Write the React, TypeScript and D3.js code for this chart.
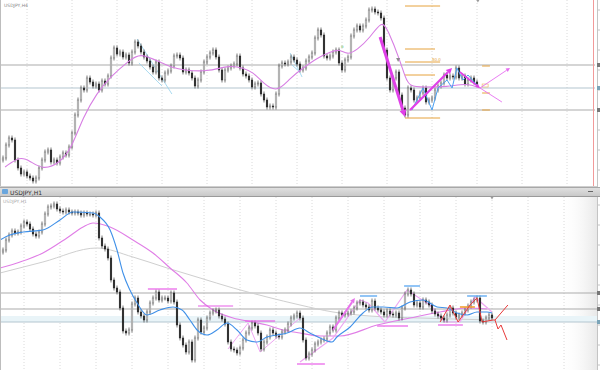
import React from 'react';
import * as d3 from 'd3';

// ---------- DATA (price units: top panel 0..190, bottom panel 0..173) ----------
const topCloses = [
  32, 45, 52, 50, 30, 22, 16, 18, 14, 12,
  9, 12, 22, 30, 38, 40, 28, 30, 27, 33,
  37, 35, 43, 57, 75, 90, 102, 100, 112, 108,
  104, 106, 100, 109, 106, 114, 132, 142, 136, 138,
  133, 135, 127, 138, 148, 144, 138, 133, 129, 123,
  118, 128, 112, 110, 117, 119, 124, 134, 135, 132,
  118, 120, 117, 112, 104, 110, 118, 128, 133, 137,
  140, 133, 120, 110, 120, 122, 124, 126, 134, 122,
  116, 114, 110, 103, 106, 107, 96, 90, 83, 84,
  83, 96, 124, 127, 126, 128, 133, 130, 126, 120,
  122, 129, 133, 137, 152, 160, 155, 134, 132, 134,
  138, 140, 127, 120, 130, 133, 154, 160, 164, 160,
  164, 170, 180, 181, 178, 177, 172, 140, 112, 100,
  112, 118, 95, 82, 75, 102, 100, 90, 92, 97,
  102, 88, 90, 92, 100, 104, 107, 115, 112, 114,
  113, 122, 112, 114, 106, 110, 112, 108, 106,
];

const botCloses = [
  120, 130, 135, 139, 137, 138, 144, 148, 146, 141,
  136, 134, 138, 146, 156, 163, 164, 166, 161, 159,
  158, 160, 158, 157, 158, 157, 155, 157, 156, 156,
  155, 157, 132, 124, 121, 112, 90, 82, 78, 62,
  39, 37, 40, 66, 72, 58, 54, 50, 58, 67,
  72, 78, 70, 72, 72, 69, 77, 68, 45, 32,
  25, 18, 28, 10, 32, 50, 38, 42, 52, 57,
  59, 60, 54, 51, 46, 28, 21, 20, 17, 22,
  30, 37, 42, 47, 44, 37, 21, 28, 33, 40,
  37, 34, 33, 38, 40, 46, 52, 54, 57, 52,
  30, 12, 16, 20, 26, 28, 30, 31, 37, 43,
  40, 52, 57, 55, 56, 57, 58, 62, 67, 68,
  65, 63, 60, 69, 62, 60, 58, 55, 59, 56,
  55, 57, 52, 62, 76, 80, 76, 65, 67, 63,
  70, 68, 65, 59, 56, 54, 52, 50, 55, 62,
  57, 53, 55, 57, 60, 64, 68, 70, 72, 49,
  48, 52, 55, 52,
];

const topMaIdx = [0.7, 5.7, 9, 13.3, 19, 23, 26.7, 31.3, 35.7, 42.3, 45.7, 52.3, 56.7, 60, 68, 75.7, 80, 83.3, 86.7, 91.3, 95.7, 100, 104.7, 109, 112.3, 114.7, 118, 122.3, 126.3, 128.3, 132.3, 134, 135.7, 140, 148, 154.7, 159];
const topMaVal = [23, 34, 29, 20, 27, 43, 73, 97, 113, 130, 137, 128, 122, 120, 118, 125, 122, 118, 107, 97, 112, 122, 132, 138, 141, 135, 140, 152, 170, 160, 130, 113, 103, 103, 103, 107, 102];

const botBlueIdx = [-1, 2.3, 6.7, 13.3, 19, 23.3, 30, 32.3, 35.7, 38, 40, 42.3, 44.7, 48, 52.3, 56.7, 59.7, 62.3, 64.7, 68, 71.3, 74.7, 78, 81.3, 84.7, 88, 91.3, 94.7, 99, 102.3, 105.7, 109.7, 111.3, 115.7, 120, 123.3, 126.7, 131.3, 135.7, 140, 144.7, 148, 151.3, 154.7, 158, 161.3, 163];
const botBlueVal = [130, 135, 138, 140, 150, 158, 157, 153, 140, 120, 97, 80, 67, 55, 60, 63, 60, 50, 40, 35, 40, 47, 40, 30, 28, 33, 35, 37, 42, 37, 32, 28, 33, 43, 57, 63, 63, 62, 68, 70, 63, 62, 57, 55, 58, 58, 57];

const botMagIdx = [-1, 5.7, 13.3, 21.3, 26.7, 30, 35.7, 43.3, 50, 55.7, 61.3, 65.7, 70, 76.7, 83.3, 88, 93.3, 99, 105.7, 112.3, 124.7, 135.7, 145.7, 154.7, 161.3];
const botMagVal = [102, 108, 117, 132, 143, 147, 143, 130, 117, 102, 87, 70, 60, 52, 48, 45, 40, 37, 34, 34, 45, 52, 58, 62, 61];

const botGrayIdx = [-1, 13.3, 31.3, 43.3, 54.7, 65.7, 76.7, 88, 99, 110, 122.3, 139, 163];
const botGrayVal = [97, 108, 122, 113, 102, 92, 82, 73, 65, 58, 54, 52, 50];

const topLevels = [125, 102, 80];
const botLevels = [77, 61, 48];
const fibLevels = [184, 141, 128, 115, 72];

// top blue zigzag
const topZigIdx = [136.3, 140, 143, 145, 148, 149.7, 151.3, 153.3, 155, 158];
const topZigVal = [80, 102, 80, 102, 110, 102, 122, 110, 115, 105];

// bottom pink zigzags
const pinkAIdx = [75, 81.7, 85.7, 99];
const pinkAVal = [21, 47, 18, 52];
const pinkBIdx = [99, 110, 119, 121.7, 127.3, 134.7, 142.3, 147.3, 152.3, 157.3, 163];
const pinkBVal = [8, 32, 70, 67, 48, 80, 65, 48, 48, 73, 58];

// bottom red zigzag + projections
const redIdx = [145.7, 149, 151.7, 155.7, 158, 159.7, 163.3, 164];
const redVal = [48, 65, 48, 65, 72, 48, 50, 50];
const redUpIdx = [164, 168.3];
const redUpVal = [50, 65];
const redDnIdx = [164, 165, 166, 168];
const redDnVal = [50, 41, 45, 30];

// segments: [startIdx, endIdx, value]
const magSegs = [[48.3, 58, 81], [65, 76.7, 64], [80.7, 90.7, 49], [98, 107.3, 6], [124.7, 135, 44], [145, 153.3, 45]];
const blueSegs = [[119, 124.7, 74], [133.7, 139, 84], [154.7, 161.3, 74]];

type Candle = { i: number; o: number; c: number; h: number; l: number };
function buildCandles(closes: number[]): Candle[] {
  return closes.map((c, i) => {
    const o = i === 0 ? c - 2 : closes[i - 1];
    return { i, o, c, h: Math.max(o, c) + 2.5, l: Math.min(o, c) - 2.5 };
  });
}

function Arrow({ x1, y1, x2, y2, color, width, head }: any) {
  const ang = Math.atan2(y2 - y1, x2 - x1);
  const bx = x2 - Math.cos(ang) * head;
  const by = y2 - Math.sin(ang) * head;
  const px = Math.cos(ang + Math.PI / 2) * head * 0.5;
  const py = Math.sin(ang + Math.PI / 2) * head * 0.5;
  return (
    <g>
      <line x1={x1} y1={y1} x2={bx} y2={by} stroke={color} strokeWidth={width} />
      <polygon points={`${x2},${y2} ${bx + px},${by + py} ${bx - px},${by - py}`} fill={color} />
    </g>
  );
}

export default function App() {
  const W = 600;
  const H = 370;
  const xTop = d3.scaleLinear().domain([0, 158]).range([3, 477]);
  const yTop = d3.scaleLinear().domain([0, 190]).range([190, 0]);
  const xBot = d3.scaleLinear().domain([0, 163]).range([3, 492]);
  const yBot = d3.scaleLinear().domain([0, 173]).range([370, 197]);

  const topC = buildCandles(topCloses);
  const botC = buildCandles(botCloses);

  const lineTop = (idx: number[], val: number[], curve: any = d3.curveLinear) =>
    d3.line<number>().x((_, k) => xTop(idx[k])).y((v) => yTop(v)).curve(curve)(val) || '';
  const lineBot = (idx: number[], val: number[], curve: any = d3.curveLinear) =>
    d3.line<number>().x((_, k) => xBot(idx[k])).y((v) => yBot(v)).curve(curve)(val) || '';

  const drawCandles = (cs: Candle[], xs: any, ys: any) =>
    cs.map((d) => {
      const bull = d.c >= d.o;
      const top = ys(Math.max(d.o, d.c));
      const bh = Math.max(1, Math.abs(ys(d.o) - ys(d.c)));
      const x = xs(d.i);
      return (
        <g key={d.i}>
          <line x1={x} x2={x} y1={ys(d.h)} y2={ys(d.l)} stroke="#444" strokeWidth={0.7} />
          <rect x={x - 0.8} y={top} width={1.6} height={bh} fill={bull ? '#ffffff' : '#222'} stroke={bull ? '#666' : '#222'} strokeWidth={0.5} />
        </g>
      );
    });

  const topGrid = d3.range(8, 200, 15).map((i) => xTop(i));
  const botGrid = d3.range(7, 200, 12).map((i) => xBot(i));

  const fibX1 = xTop(134);
  const fibX2 = xTop(145.7);

  return (
    <svg width={W} height={H} style={{ position: 'fixed', left: 0, top: 0, background: '#fff' }} fontFamily="DejaVu Sans, sans-serif">
      <defs>
        <clipPath id="clipTop"><rect x={0} y={0} width={595} height={186} /></clipPath>
        <clipPath id="clipBot"><rect x={0} y={197} width={597} height={173} /></clipPath>
        <linearGradient id="barGrad" x1="0" y1="0" x2="0" y2="1">
          <stop offset="0" stopColor="#e2e2e2" />
          <stop offset="1" stopColor="#c6c6c6" />
        </linearGradient>
        <linearGradient id="rightShade" x1="0" y1="0" x2="1" y2="0">
          <stop offset="0" stopColor="#ffffff" stopOpacity="0" />
          <stop offset="1" stopColor="#e8e8e8" stopOpacity="1" />
        </linearGradient>
      </defs>
      <rect x={0} y={0} width={W} height={H} fill="#fff" />

      {/* ---------------- TOP PANEL ---------------- */}
      <g clipPath="url(#clipTop)">
        {topGrid.map((x, k) => (
          <line key={k} x1={x} x2={x} y1={0} y2={186} stroke="#d0d0d0" strokeWidth={0.8} strokeDasharray="1,2" />
        ))}
        {topLevels.map((v, k) => (
          <line key={k} x1={0} x2={597} y1={yTop(v)} y2={yTop(v)} stroke={k === 1 ? '#b3c6cf' : '#ababab'} strokeWidth={1.1} />
        ))}
        {/* channel lines */}
        <line x1={xTop(44.7)} y1={yTop(151)} x2={xTop(56.3)} y2={yTop(96)} stroke="#9fd6ee" strokeWidth={0.9} />
        <line x1={xTop(45.3)} y1={yTop(127)} x2={xTop(53)} y2={yTop(104)} stroke="#9fd6ee" strokeWidth={0.9} />
        <line x1={xTop(95.7)} y1={yTop(137)} x2={xTop(99.7)} y2={yTop(113)} stroke="#9fd6ee" strokeWidth={0.9} />
        <line x1={xTop(96.3)} y1={yTop(125)} x2={xTop(99)} y2={yTop(118)} stroke="#9fd6ee" strokeWidth={0.9} />

        {/* fib levels */}
        {fibLevels.map((v, k) => (
          <line key={k} x1={fibX1} x2={k === 1 || k === 3 ? xTop(144) : fibX2} y1={yTop(v)} y2={yTop(v)} stroke="#e6a23c" strokeWidth={1} />
        ))}
        <text x={xTop(143)} y={yTop(128) - 1.5} fontSize={4} fill="#e6a23c">50.0</text>
        {[124, 97, 80].map((v, k) => (
          <line key={k} x1={xTop(159.7)} x2={xTop(162.3)} y1={yTop(v)} y2={yTop(v)} stroke="#e6a23c" strokeWidth={1} />
        ))}
        <rect x={xTop(159.7)} y={yTop(106)} width={6} height={3} fill="none" stroke="#e6a23c" strokeWidth={0.5} />

        {drawCandles(topC, xTop, yTop)}

        <path d={lineTop(topMaIdx, topMaVal, d3.curveBasis)} fill="none" stroke="#d77ee3" strokeWidth={1.1} />

        <path d={lineTop(topZigIdx, topZigVal)} fill="none" stroke="#4a9ff0" strokeWidth={1} />

        {/* markers */}
        <polygon points={`${xTop(131.7) - 2},${yTop(132)} ${xTop(131.7) + 2},${yTop(132)} ${xTop(131.7)},${yTop(128)}`} fill="#8a8a8a" />
        <text x={xTop(112.7)} y={yTop(142)} fontSize={4} fill="#4caf50">ʊ</text>

        {/* magenta arrows */}
        <Arrow x1={xTop(125.7)} y1={yTop(153)} x2={xTop(134)} y2={yTop(73)} color="#e040e8" width={3} head={7} />
        <Arrow x1={xTop(135.7)} y1={yTop(80)} x2={xTop(149.7)} y2={yTop(122)} color="#e040e8" width={2.2} head={6} />
        <Arrow x1={xTop(152.3)} y1={yTop(118)} x2={xTop(159)} y2={yTop(102)} color="#e040e8" width={1.6} head={4} />
        <Arrow x1={xTop(159)} y1={yTop(102)} x2={xTop(169)} y2={yTop(122)} color="#e66ef0" width={0.9} head={4} />
        <line x1={xTop(159)} y1={yTop(102)} x2={xTop(166.3)} y2={yTop(88)} stroke="#e66ef0" strokeWidth={0.9} />

        <line x1={593.5} x2={593.5} y1={0} y2={186} stroke="#f29a9a" strokeWidth={1} />
      </g>
      <text x={4} y={7} fontSize={4.5} fill="#888">USDJPY,H4</text>
      {/* top right axis */}
      <line x1={597.5} x2={597.5} y1={0} y2={187} stroke="#c4c4c4" />
      {d3.range(10, 186, 20).map((y) => (
        <line key={y} x1={597} x2={600} y1={y} y2={y} stroke="#c4c4c4" />
      ))}
      {topLevels.map((v, k) => (
        <rect key={k} x={597} y={yTop(v) - 2} width={3} height={4} fill={k === 1 ? '#7aa4b8' : '#777'} />
      ))}
      <line x1={0} x2={597} y1={186.5} y2={186.5} stroke="#cfcfcf" />
      <line x1={0.5} x2={0.5} y1={0} y2={186} stroke="#bdbdbd" />
      <polygon points={`${xTop(158.3) - 1.5},0 ${xTop(158.3) + 1.5},0 ${xTop(158.3)},2.5`} fill="#999" />

      {/* ---------------- HEADER BAR ---------------- */}
      <rect x={0} y={187} width={600} height={10} fill="url(#barGrad)" />
      <line x1={0} x2={600} y1={187.5} y2={187.5} stroke="#a8a8a8" />
      <line x1={0} x2={600} y1={196.5} y2={196.5} stroke="#9a9a9a" />
      <rect x={2} y={189} width={6} height={5} fill="#6aa6dd" rx={1} />
      <text x={10} y={194.5} fontSize={6} fill="#333">USDJPY,H1</text>
      <line x1={588} x2={593} y1={191.5} y2={191.5} stroke="#666" strokeWidth={1} />

      {/* ---------------- BOTTOM PANEL ---------------- */}
      <g clipPath="url(#clipBot)">
        <rect x={560} y={197} width={37} height={173} fill="url(#rightShade)" />
        {botGrid.map((x, k) => (
          <line key={k} x1={x} x2={x} y1={197} y2={370} stroke="#d0d0d0" strokeWidth={0.8} strokeDasharray="1,2" />
        ))}
        <rect x={0} y={yBot(54)} width={597} height={yBot(48) - yBot(54)} fill="#e9f4f8" />
        {botLevels.map((v, k) => (
          <line key={k} x1={0} x2={597} y1={yBot(v)} y2={yBot(v)} stroke={k === 2 ? '#b3c6cf' : '#ababab'} strokeWidth={1.1} />
        ))}

        <path d={lineBot(botGrayIdx, botGrayVal, d3.curveMonotoneX)} fill="none" stroke="#cfcfcf" strokeWidth={1} />
        <path d={lineBot(botMagIdx, botMagVal, d3.curveMonotoneX)} fill="none" stroke="#e07ee6" strokeWidth={1.1} />

        <path d={lineBot(pinkAIdx, pinkAVal)} fill="none" stroke="#eea6f2" strokeWidth={1} />
        <path d={lineBot(pinkBIdx, pinkBVal)} fill="none" stroke="#eea6f2" strokeWidth={1.2} />

        {drawCandles(botC, xBot, yBot)}

        <path d={lineBot(botBlueIdx, botBlueVal, d3.curveMonotoneX)} fill="none" stroke="#3f90e8" strokeWidth={1.1} />

        {magSegs.map((s, k) => (
          <line key={k} x1={xBot(s[0])} x2={xBot(s[1])} y1={yBot(s[2])} y2={yBot(s[2])} stroke="#e85ee8" strokeWidth={1.2} />
        ))}
        {blueSegs.map((s, k) => (
          <line key={k} x1={xBot(s[0])} x2={xBot(s[1])} y1={yBot(s[2])} y2={yBot(s[2])} stroke="#4a9ff0" strokeWidth={1.2} />
        ))}
        <line x1={xBot(152.3)} x2={xBot(157.3)} y1={yBot(63)} y2={yBot(63)} stroke="#f0a030" strokeWidth={1.6} />

        <Arrow x1={xBot(110)} y1={yBot(40)} x2={xBot(117.3)} y2={yBot(72)} color="#e874ec" width={2} head={5} />

        <path d={lineBot(redIdx, redVal)} fill="none" stroke="#e83a3a" strokeWidth={1} />
        <path d={lineBot(redUpIdx, redUpVal)} fill="none" stroke="#e83a3a" strokeWidth={1} />
        <path d={lineBot(redDnIdx, redDnVal)} fill="none" stroke="#e83a3a" strokeWidth={1} />
      </g>
      <text x={3} y={203} fontSize={4.5} fill="#aaa">USDJPY,H1</text>
      <line x1={597.5} x2={597.5} y1={197} y2={370} stroke="#c4c4c4" />
      {d3.range(205, 370, 20).map((y) => (
        <line key={y} x1={597} x2={600} y1={y} y2={y} stroke="#c4c4c4" />
      ))}
      {botLevels.map((v, k) => (
        <rect key={k} x={597} y={yBot(v) - 2} width={3} height={4} fill={k === 2 ? '#7aa4b8' : '#777'} />
      ))}
      <line x1={0.5} x2={0.5} y1={197} y2={370} stroke="#bdbdbd" />
      <polygon points={`${xBot(163) - 1.5},197 ${xBot(163) + 1.5},197 ${xBot(163)},199.5`} fill="#999" />
    </svg>
  );
}
